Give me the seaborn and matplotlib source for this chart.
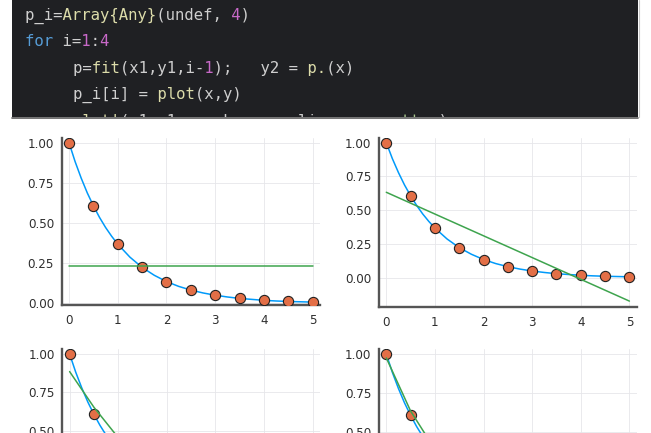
import matplotlib
matplotlib.use("Agg")
import matplotlib.pyplot as plt
import seaborn as sns
from matplotlib.patches import Rectangle
from matplotlib.lines import Line2D

# ---------------- data ----------------
x_pts = [0.0, 0.5, 1.0, 1.5, 2.0, 2.5, 3.0, 3.5, 4.0, 4.5, 5.0]
y_pts = [1.000, 0.607, 0.368, 0.223, 0.135, 0.082, 0.050, 0.030, 0.018, 0.011, 0.007]

x_curve = [0.0, 0.125, 0.25, 0.375, 0.5, 0.625, 0.75, 0.875, 1.0, 1.25, 1.5, 1.75, 2.0,
           2.25, 2.5, 2.75, 3.0, 3.25, 3.5, 3.75, 4.0, 4.25, 4.5, 4.75, 5.0]
y_curve = [1.000, 0.882, 0.779, 0.687, 0.607, 0.535, 0.472, 0.417, 0.368, 0.287, 0.223,
           0.174, 0.135, 0.105, 0.082, 0.064, 0.050, 0.039, 0.030, 0.024, 0.018, 0.014,
           0.011, 0.009, 0.007]

x_fit_line = [0.0, 5.0]
fit_deg0 = [0.230, 0.230]
fit_deg1 = [0.633, -0.173]
x_fit_poly = [0.0, 0.5, 1.0, 1.5, 2.0, 2.5, 3.0, 3.5, 4.0, 4.5, 5.0]
fit_deg2 = [0.885, 0.653, 0.455, 0.291, 0.160, 0.062, -0.002, -0.032, -0.029, 0.008, 0.079]
fit_deg3 = [0.975, 0.635, 0.389, 0.221, 0.117, 0.062, 0.040, 0.037, 0.038, 0.027, -0.011]

x_ticks = [0, 1, 2, 3, 4, 5]
y_ticks = [0.0, 0.25, 0.5, 0.75, 1.0]
y_tick_labels = ["0.00", "0.25", "0.50", "0.75", "1.00"]

code_lines = [
    [("p_i=", "w"), ("Array{Any}", "y"), ("(undef, ", "w"), ("4", "m"), (")", "w")],
    [("for", "b"), (" i=", "w"), ("1", "m"), (":", "w"), ("4", "m")],
    [("p=", "w"), ("fit", "y"), ("(x1,y1,i-", "w"), ("1", "m"), (");   y2 = ", "w"),
     ("p.", "y"), ("(x)", "w")],
    [("p_i[i] = ", "w"), ("plot", "y"), ("(x,y)", "w")],
    [("plot!", "y"), ("(x1,y1, marker=", "w"), (":o", "g"), (", line = ", "w"),
     (":scatter", "g"), (")", "w")],
]
code_indent = [0, 0, 1, 1, 1]

# ---------------- styling ----------------
sns.set_theme(style="white")
plt.rcParams["font.family"] = ["DejaVu Sans"]

W, H = 651, 433
fig = plt.figure(figsize=(W / 100, H / 100), dpi=100)
fig.patch.set_facecolor("white")

C_LINE = "#009AFA"
C_PTS = "#E36F47"
C_FIT = "#3EA44E"

# ---------------- code block ----------------
box = Rectangle((12 / W, 1 - 117 / H), (638 - 12) / W, 117 / H + 0.01,
                transform=fig.transFigure, facecolor="#1f2023", edgecolor="none", zorder=0)
fig.add_artist(box)
fig.add_artist(Line2D([12 / W, 638 / W], [1 - 117.5 / H, 1 - 117.5 / H],
                      transform=fig.transFigure, color="#5a5a5a", lw=1.2))
fig.add_artist(Line2D([638.5 / W, 638.5 / W], [1 - 117 / H, 1.0],
                      transform=fig.transFigure, color="#c8c8c8", lw=0.8))

code_colors = {"w": "#cfcfcf", "y": "#dcdcaa", "m": "#c869c8", "b": "#569cd6", "g": "#a9c88f"}
line_y = [15.5, 42.0, 68.3, 94.5, 121.3]
for li, segs in enumerate(code_lines):
    x0 = 24.9 if code_indent[li] == 0 else 72.6
    for ck, col in code_colors.items():
        txt = "".join(s if c == ck else " " * len(s) for s, c in segs)
        if txt.strip() == "":
            continue
        t = fig.text(x0 / W, 1 - line_y[li] / H, txt, color=col,
                     family="DejaVu Sans Mono", fontsize=11.25,
                     ha="left", va="center", zorder=2)
        t.set_clip_path(box)

# ---------------- panels ----------------
def rect(l, r, t, b):
    return [l / W, 1 - b / H, (r - l) / W, (b - t) / H]

panels = [
    dict(pos=rect(61.7, 320, 138, 305), fx=x_fit_line, fy=fit_deg0, ylim=(-0.011, 1.029), xl=True),
    dict(pos=rect(379, 636.7, 138, 306.5), fx=x_fit_line, fy=fit_deg1, ylim=(-0.213, 1.035), xl=True),
    dict(pos=rect(62.3, 320, 349.3, 516), fx=x_fit_poly, fy=fit_deg2, ylim=(-0.055, 1.030), xl=False),
    dict(pos=rect(379, 636.7, 349.3, 516), fx=x_fit_poly, fy=fit_deg3, ylim=(-0.037, 1.030), xl=False),
]

for p in panels:
    ax = fig.add_axes(p["pos"])
    ax.set_facecolor("white")
    sns.lineplot(x=x_curve, y=y_curve, ax=ax, color=C_LINE, lw=1.1, zorder=3)
    sns.scatterplot(x=x_pts, y=y_pts, ax=ax, color=C_PTS, s=54, edgecolor="#222222",
                    linewidth=0.8, zorder=4)
    sns.lineplot(x=p["fx"], y=p["fy"], ax=ax, color=C_FIT, lw=1.1, zorder=5)
    ax.set_xlim(-0.15, 5.15)
    ax.set_ylim(*p["ylim"])
    ax.set_xticks(x_ticks)
    if p["xl"]:
        ax.set_xticklabels([str(v) for v in x_ticks])
    else:
        ax.set_xticklabels([])
    ax.set_yticks(y_ticks)
    ax.set_yticklabels(y_tick_labels)
    ax.grid(True, color="#e6e6ea", lw=0.6)
    ax.set_axisbelow(True)
    for s in ["top", "right"]:
        ax.spines[s].set_visible(False)
    for s in ["left", "bottom"]:
        ax.spines[s].set_color("#555555")
        ax.spines[s].set_linewidth(1.7)
    ax.tick_params(axis="both", direction="in", length=2.5, width=0.7, color="#333333",
                   labelsize=8.6, labelcolor="#2e2e2e")
    ax.tick_params(axis="y", pad=5.5)
    ax.tick_params(axis="x", pad=6.5)
    ax.set_xlabel("")
    ax.set_ylabel("")

fig.savefig("out.png", dpi=100)
